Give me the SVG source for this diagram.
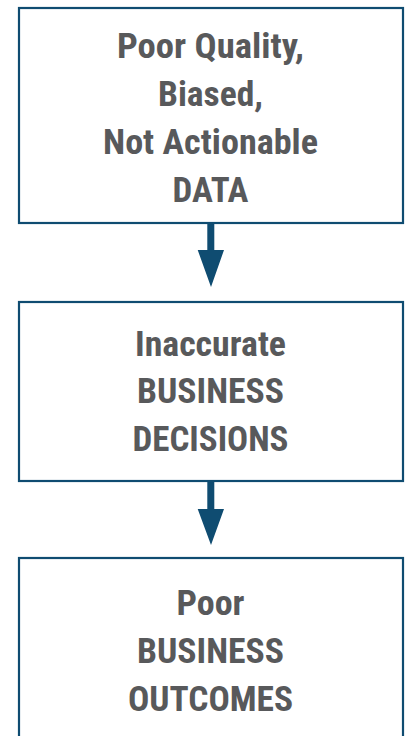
<svg xmlns="http://www.w3.org/2000/svg" width="406" height="736" viewBox="0 0 406 736">
<style>
.box{fill:#ffffff;stroke:#0f4c71;stroke-width:2.2}
.t{font-family:"Roboto Condensed",Roboto,"Liberation Sans",sans-serif;font-weight:700;font-size:35px;fill:#58595b;text-anchor:middle}
.shaft{fill:#0f4c71}
</style>
<rect width="406" height="736" fill="#ffffff"/>
<g id="node-data">
<rect class="box" x="19" y="8" width="384" height="215"/>
<text class="t" x="210.5" y="58" textLength="187" lengthAdjust="spacingAndGlyphs">Poor Quality,</text>
<text class="t" x="210.5" y="106" textLength="105" lengthAdjust="spacingAndGlyphs">Biased,</text>
<text class="t" x="210.5" y="154" textLength="215" lengthAdjust="spacingAndGlyphs">Not Actionable</text>
<text class="t" x="210.5" y="202" textLength="76" lengthAdjust="spacingAndGlyphs">DATA</text>
</g>
<g id="node-decisions">
<rect class="box" x="19" y="302" width="384" height="179"/>
<text class="t" x="210.5" y="356" textLength="151" lengthAdjust="spacingAndGlyphs">Inaccurate</text>
<text class="t" x="210.5" y="403" textLength="147" lengthAdjust="spacingAndGlyphs">BUSINESS</text>
<text class="t" x="210.5" y="451" textLength="156" lengthAdjust="spacingAndGlyphs">DECISIONS</text>
</g>
<g id="node-outcomes">
<rect class="box" x="19" y="558" width="384" height="200"/>
<text class="t" x="210.5" y="615" textLength="68" lengthAdjust="spacingAndGlyphs">Poor</text>
<text class="t" x="210.5" y="663" textLength="147" lengthAdjust="spacingAndGlyphs">BUSINESS</text>
<text class="t" x="210.5" y="711" textLength="165" lengthAdjust="spacingAndGlyphs">OUTCOMES</text>
</g>
<g id="connectors">
<path class="shaft" d="M207.3 224 H214.3 V250 H224 L211 287 L197.7 250 H207.3 Z"/>
<path class="shaft" d="M207.3 482 H214.3 V509 H224 L211 545 L197.7 509 H207.3 Z"/>
</g>
</svg>
